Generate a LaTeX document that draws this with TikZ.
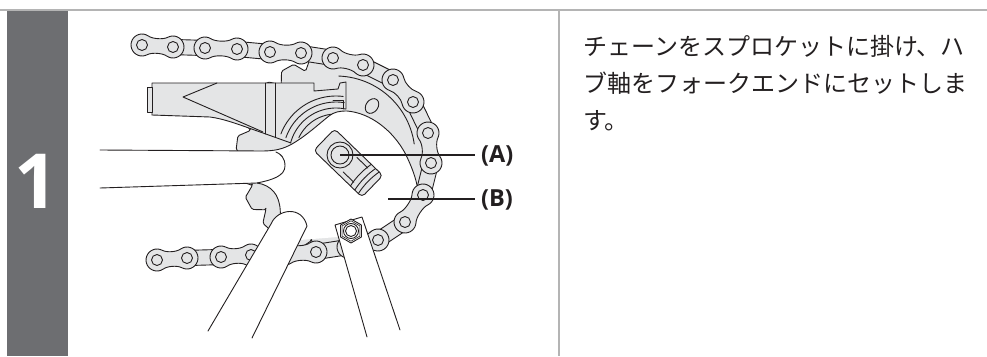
\documentclass[tikz,border=0pt]{standalone}
\usepackage{fontspec}
\setmainfont{Open Sans}
\newfontfamily\jpfont{Noto Sans CJK JP}
\usetikzlibrary{calc}

\definecolor{ink}{HTML}{231F20}
\definecolor{steel}{HTML}{E4E5E6}
\definecolor{stepgray}{HTML}{6D6E71}
\definecolor{rulegray}{HTML}{B4B4B4}

\tikzset{
  ln/.style={draw=ink, line width=0.9pt, line join=round, line cap=round},
  part/.style={ln, fill=steel},
  cover/.style={fill=white},
  leader/.style={draw=ink, line width=2.2pt},
  tag/.style={font=\bfseries\fontsize{23.5}{24}\selectfont, text=ink, inner sep=0pt, anchor=west},
  jptext/.style={font=\jpfont\fontsize{24}{24}\selectfont, text=ink, inner sep=0pt, anchor=base west},
}

% outer link plate (figure-eight) between two pin centres
\newcommand\outerplate[4]{%
  \pgfmathsetmacro\plateang{-atan2((#4)-(#2),(#3)-(#1))}%
  \pgfmathsetmacro\platelen{veclen((#3)-(#1),(#4)-(#2))}%
  \begin{scope}[shift={(#1,#2)},rotate=\plateang]
    \filldraw[part] plot[domain=60:300,samples=21] ({11*cos(\x)},{11*sin(\x)})
      .. controls (10,-6.6) and ({\platelen-10},-6.6) .. ({\platelen-5.5},-9.526)
      -- plot[domain=240:480,samples=21] ({\platelen+11*cos(\x)},{11*sin(\x)})
      .. controls ({\platelen-10},6.6) and (10,6.6) .. (5.5,9.526) -- cycle;
  \end{scope}}
% inner link plate (straight band) between two pin centres
\newcommand\innerplate[4]{%
  \pgfmathsetmacro\plateang{-atan2((#4)-(#2),(#3)-(#1))}%
  \pgfmathsetmacro\platelen{veclen((#3)-(#1),(#4)-(#2))}%
  \begin{scope}[shift={(#1,#2)},rotate=\plateang]
    \filldraw[part, rounded corners=6pt] (-9,-7.6) rectangle ({\platelen+9},7.6);
  \end{scope}}

\begin{document}
\begin{tikzpicture}[x=1pt,y=-1pt]
\useasboundingbox (0,0) rectangle (987,356);
\fill[white] (0,0) rectangle (987,356);

% ---- frame of the step: header rule, number bar, column divider
\draw[rulegray, line width=1.8pt] (0,10) -- (987,10);
\fill[stepgray] (7,11) rectangle (68,356);
\node[font=\bfseries\fontsize{76}{76}\selectfont, text=white, inner sep=0pt] (stepnum) at (36,181) {1};
\draw[rulegray, line width=1.6pt] (559,10) -- (559,356);

% ---- sprocket
\begin{scope}[shift={(336,155)}]
  \filldraw[part, rounded corners=1.5pt] (-2:89)
    \foreach \k in {0,...,19}{ -- ({18*\k-2}:89) -- ({18*\k+3}:100) -- ({18*\k+11}:100) -- ({18*\k+16}:89) } -- cycle;
  \draw[ln] plot[domain=272:352,samples=30] ({79*cos(\x)},{79*sin(\x)});
\end{scope}
\begin{scope}[shift={(372,106)},rotate=54]
  \draw[ln] (0,0) ellipse[x radius=8, y radius=6];
\end{scope}
\draw[ln] plot[domain=205:290,samples=25] ({336+41*cos(\x)},{155+41*sin(\x)});

% ---- chain stay with dropout
\fill[steel] (152,83) -- (314,83) -- (314,91) -- (338,89) -- (340,83) -- (346,82) -- (346,109)
  -- plot[domain=282:195,samples=25] ({336+47*cos(\x)},{155+47*sin(\x)})
  -- (263,133) .. controls (240,125) and (225,119) .. (210,117) -- (152,115) -- cycle;
\draw[ln] (152,115) -- (152,83) -- (314,83) -- (314,91) -- (338,89) -- (340,83) -- (346,82) -- (346,109);
\draw[ln] (152,115) -- (210,117) .. controls (225,119) and (240,125) .. (263,133) -- (291,143);
\draw[ln] plot[domain=195:282,samples=25] ({336+47*cos(\x)},{155+47*sin(\x)});
\foreach \rr/\aa/\bb in {53/199/279, 59/201/277}
  \draw[ln] plot[domain=\aa:\bb,samples=25] ({336+\rr*cos(\x)},{155+\rr*sin(\x)});
\draw[ln] (333,100) -- (343,100) -- (343,109);
\filldraw[part] (147,87) rectangle (152,112);
\draw[ln] (217,83) -- (183,97) -- (263,132);
\draw[ln] (265,83) -- (265,134);
\draw[ln] (275,83) -- (275,137);

% ---- hand gripping the wheel
\fill[cover] (100,150) -- (262,151) .. controls (275,151) and (283,149) .. (292,144)
  .. controls (306,136) and (320,123) .. (329,116) .. controls (334,112) and (339,111) .. (347,111)
  .. controls (371,113) and (393,131) .. (405,153) .. controls (414,171) and (421,191) .. (417,204)
  .. controls (414,214) and (406,220) .. (395,224) -- (350,236) -- (300,240) -- (276,236)
  .. controls (283,218) and (281,200) .. (274,192) .. controls (270,187) and (264,184) .. (257,183)
  -- (100,188) -- cycle;
\draw[ln] (100,150) -- (262,151) .. controls (275,151) and (283,149) .. (292,144)
  .. controls (306,136) and (320,123) .. (329,116) .. controls (334,112) and (339,111) .. (347,111)
  .. controls (371,113) and (393,131) .. (405,153) .. controls (414,171) and (421,191) .. (417,204)
  .. controls (414,214) and (406,220) .. (395,224);
\draw[ln] (276,236) .. controls (283,218) and (281,200) .. (274,192)
  .. controls (270,187) and (264,184) .. (257,183) -- (100,188);
\draw[ln] (257,183) .. controls (272,180) and (285,176) .. (285,166) .. controls (285,158) and (281,154) .. (276,152);

% ---- hub axle
\begin{scope}[shift={(340,155)},rotate=-44]
  \filldraw[part, rounded corners=4pt] (-22,-15) rectangle (45,15);
  \draw[ln] (29,-15) .. controls (27,-5) and (27,5) .. (29,15);
  \draw[ln] (35,-15) .. controls (33,-5) and (33,5) .. (35,15);
  \draw[ln] (40,-15) .. controls (38,-5) and (38,5) .. (40,15);
  \draw[ln] (14,-10) -- (29,-10);
  \draw[ln] (14,10) -- (29,10);
  \filldraw[part] (0,0) circle[radius=13];
  \filldraw[part] (0,0) circle[radius=9];
\end{scope}
\coordinate (axleend) at (340,155);

% ---- chain
\foreach \ax/\ay/\bx/\by in {173/47/205/48, 237/49/270/52, 301/53/333/58, 363/65/393/80,
    413/102/428/133, 431/163/423/195, 405/222/378/240, 348/247/316/252, 285/254/251/255, 221/257/187/258}
  {\innerplate{\ax}{\ay}{\bx}{\by}}
\foreach \ax/\ay/\bx/\by in {142/45/173/47, 205/48/237/49, 270/52/301/53, 333/58/363/65, 393/80/413/102,
    428/133/431/163, 423/195/405/222, 378/240/348/247, 316/252/285/254, 251/255/221/257, 187/258/157/260}
  {\outerplate{\ax}{\ay}{\bx}{\by}}
\foreach \px/\py in {142/45, 173/47, 205/48, 237/49, 270/52, 301/53, 333/58, 363/65, 393/80, 413/102, 428/133,
    431/163, 423/195, 405/222, 378/240, 348/247, 316/252, 285/254, 251/255, 221/257, 187/258, 157/260}
  {\filldraw[part] (\px,\py) circle[radius=5.5];}

% ---- frame tubes below the hub
\fill[cover] (208,331) -- (271,224) .. controls (277,209) and (302,205) .. (307,226) -- (252,338) -- cycle;
\draw[ln] (208,331) -- (271,224) .. controls (277,209) and (302,205) .. (307,226) -- (252,338);
\fill[cover] (367,337) -- (335,225) -- (362,217) -- (400,330) -- cycle;
\draw[ln] (367,337) -- (335,225) -- (362,217) -- (400,330);

% ---- axle nut
\begin{scope}[shift={(351,231)}]
  \filldraw[ln, fill=white] (30:12) \foreach \a in {90,150,...,330}{ -- (\a:12) } -- cycle;
  \draw[ln, line width=0.6pt] (30:10.2) \foreach \a in {90,150,...,330}{ -- (\a:10.2) } -- cycle;
  \draw[ln] (0,0) circle[radius=7.5];
  \draw[ln] (0,0) circle[radius=5.5];
\end{scope}

% ---- callouts
\coordinate (palm) at (388,199);
\coordinate (Aend) at (475,155);
\coordinate (Bend) at (475,199);
\draw[leader] (axleend) -- (Aend);
\draw[leader] (palm) -- (Bend);
\node[tag] (labA) at (481,156) {(A)};
\node[tag] (labB) at (481,200) {(B)};

% ---- instruction text
\node[jptext] (line1) at (583,55) {チェーンをスプロケットに掛け、ハ};
\node[jptext] (line2) at (583,92) {ブ軸をフォークエンドにセットしま};
\node[jptext] (line3) at (583,129) {す。};
\end{tikzpicture}
\end{document}
